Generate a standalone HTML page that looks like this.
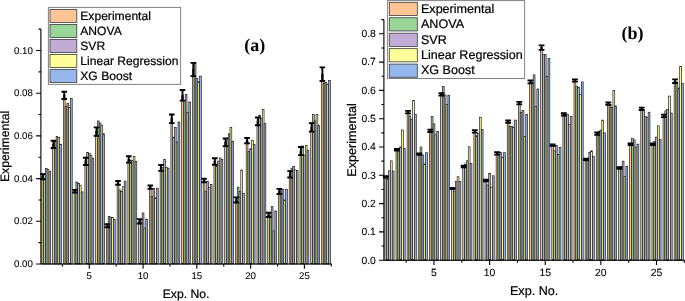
<!DOCTYPE html>
<html lang="en">
<head>
<meta charset="utf-8">
<title>Experimental vs predicted values</title>
<style>
html,body{margin:0;padding:0;background:#fff;}
body{width:685px;height:301px;overflow:hidden;}
svg{display:block;font-family:"Liberation Sans",sans-serif;text-rendering:geometricPrecision;}
text{stroke:#000;stroke-width:0.22px;}
.tk text{stroke-width:0.08px;}
</style>
</head>
<body>
<svg width="685" height="301" viewBox="0 0 685 301">
<defs><filter id="soft" x="0" y="0" width="685" height="301" filterUnits="userSpaceOnUse" color-interpolation-filters="sRGB"><feGaussianBlur stdDeviation="0.45"/></filter></defs>
<rect width="685" height="301" fill="#fff"/>
<g filter="url(#soft)">
<g stroke="#202020" stroke-width="0.7">
<rect x="41.85" y="176.68" width="1.74" height="87.32" fill="#FDC594"/>
<rect x="43.63" y="173.9" width="1.74" height="90.1" fill="#98D698"/>
<rect x="45.41" y="168.35" width="1.74" height="95.65" fill="#BFADD6"/>
<rect x="47.19" y="169.63" width="1.74" height="94.37" fill="#FFFF99"/>
<rect x="48.97" y="171.34" width="1.74" height="92.66" fill="#98B6EE"/>
<rect x="52.6" y="144.44" width="1.74" height="119.56" fill="#FDC594"/>
<rect x="54.38" y="141.24" width="1.74" height="122.76" fill="#98D698"/>
<rect x="56.16" y="136.33" width="1.74" height="127.67" fill="#BFADD6"/>
<rect x="57.94" y="137.61" width="1.74" height="126.39" fill="#FFFF99"/>
<rect x="59.72" y="144.23" width="1.74" height="119.77" fill="#98B6EE"/>
<rect x="63.36" y="95.34" width="1.74" height="168.66" fill="#FDC594"/>
<rect x="65.14" y="106.22" width="1.74" height="157.78" fill="#98D698"/>
<rect x="66.92" y="103.23" width="1.74" height="160.77" fill="#BFADD6"/>
<rect x="68.7" y="107.5" width="1.74" height="156.5" fill="#FFFF99"/>
<rect x="70.48" y="98.32" width="1.74" height="165.68" fill="#98B6EE"/>
<rect x="74.11" y="191.2" width="1.74" height="72.8" fill="#FDC594"/>
<rect x="75.89" y="182.02" width="1.74" height="81.98" fill="#98D698"/>
<rect x="77.67" y="183.3" width="1.74" height="80.7" fill="#BFADD6"/>
<rect x="79.45" y="185.22" width="1.74" height="78.78" fill="#FFFF99"/>
<rect x="81.23" y="191.84" width="1.74" height="72.16" fill="#98B6EE"/>
<rect x="84.87" y="161.31" width="1.74" height="102.69" fill="#FDC594"/>
<rect x="86.65" y="152.34" width="1.74" height="111.66" fill="#98D698"/>
<rect x="88.43" y="153.62" width="1.74" height="110.38" fill="#BFADD6"/>
<rect x="90.21" y="155.33" width="1.74" height="108.67" fill="#FFFF99"/>
<rect x="91.99" y="158.32" width="1.74" height="105.68" fill="#98B6EE"/>
<rect x="95.63" y="131.63" width="1.74" height="132.37" fill="#FDC594"/>
<rect x="97.41" y="120.95" width="1.74" height="143.05" fill="#98D698"/>
<rect x="99.19" y="123.09" width="1.74" height="140.91" fill="#BFADD6"/>
<rect x="100.97" y="125.22" width="1.74" height="138.78" fill="#FFFF99"/>
<rect x="102.75" y="133.77" width="1.74" height="130.23" fill="#98B6EE"/>
<rect x="106.38" y="225.78" width="1.74" height="38.22" fill="#FDC594"/>
<rect x="108.16" y="216.39" width="1.74" height="47.61" fill="#98D698"/>
<rect x="109.94" y="217.24" width="1.74" height="46.76" fill="#BFADD6"/>
<rect x="111.72" y="217.46" width="1.74" height="46.54" fill="#FFFF99"/>
<rect x="113.5" y="219.59" width="1.74" height="44.41" fill="#98B6EE"/>
<rect x="117.14" y="182.87" width="1.74" height="81.13" fill="#FDC594"/>
<rect x="118.92" y="189.92" width="1.74" height="74.08" fill="#98D698"/>
<rect x="120.7" y="191.62" width="1.74" height="72.38" fill="#BFADD6"/>
<rect x="122.48" y="186.71" width="1.74" height="77.29" fill="#FFFF99"/>
<rect x="124.26" y="181.16" width="1.74" height="82.84" fill="#98B6EE"/>
<rect x="127.89" y="159.38" width="1.74" height="104.62" fill="#FDC594"/>
<rect x="129.67" y="160.03" width="1.74" height="103.97" fill="#98D698"/>
<rect x="131.45" y="160.67" width="1.74" height="103.33" fill="#BFADD6"/>
<rect x="133.23" y="156.61" width="1.74" height="107.39" fill="#FFFF99"/>
<rect x="135.01" y="161.31" width="1.74" height="102.69" fill="#98B6EE"/>
<rect x="138.65" y="221.3" width="1.74" height="42.7" fill="#FDC594"/>
<rect x="140.43" y="220.23" width="1.74" height="43.77" fill="#98D698"/>
<rect x="142.21" y="212.97" width="1.74" height="51.03" fill="#BFADD6"/>
<rect x="143.99" y="227.92" width="1.74" height="36.08" fill="#FFFF99"/>
<rect x="145.77" y="219.16" width="1.74" height="44.84" fill="#98B6EE"/>
<rect x="149.4" y="187.14" width="1.74" height="76.86" fill="#FDC594"/>
<rect x="151.18" y="196.53" width="1.74" height="67.47" fill="#98D698"/>
<rect x="152.96" y="188.63" width="1.74" height="75.37" fill="#BFADD6"/>
<rect x="154.74" y="197.81" width="1.74" height="66.19" fill="#FFFF99"/>
<rect x="156.52" y="188.21" width="1.74" height="75.79" fill="#98B6EE"/>
<rect x="160.16" y="167.93" width="1.74" height="96.07" fill="#FDC594"/>
<rect x="161.94" y="167.5" width="1.74" height="96.5" fill="#98D698"/>
<rect x="163.72" y="159.38" width="1.74" height="104.62" fill="#BFADD6"/>
<rect x="165.5" y="167.5" width="1.74" height="96.5" fill="#FFFF99"/>
<rect x="167.28" y="168.14" width="1.74" height="95.86" fill="#98B6EE"/>
<rect x="170.91" y="118.82" width="1.74" height="145.18" fill="#FDC594"/>
<rect x="172.69" y="137.18" width="1.74" height="126.82" fill="#98D698"/>
<rect x="174.47" y="127.36" width="1.74" height="136.64" fill="#BFADD6"/>
<rect x="176.25" y="142.09" width="1.74" height="121.91" fill="#FFFF99"/>
<rect x="178.03" y="122.02" width="1.74" height="141.98" fill="#98B6EE"/>
<rect x="181.67" y="95.34" width="1.74" height="168.66" fill="#FDC594"/>
<rect x="183.45" y="100.67" width="1.74" height="163.33" fill="#98D698"/>
<rect x="185.23" y="94.48" width="1.74" height="169.52" fill="#BFADD6"/>
<rect x="187.01" y="112.42" width="1.74" height="151.58" fill="#FFFF99"/>
<rect x="188.79" y="101.95" width="1.74" height="162.05" fill="#98B6EE"/>
<rect x="192.43" y="69.5" width="1.74" height="194.5" fill="#FDC594"/>
<rect x="194.21" y="62.46" width="1.74" height="201.54" fill="#98D698"/>
<rect x="195.99" y="78.26" width="1.74" height="185.74" fill="#BFADD6"/>
<rect x="197.77" y="81.67" width="1.74" height="182.33" fill="#FFFF99"/>
<rect x="199.55" y="76.12" width="1.74" height="187.88" fill="#98B6EE"/>
<rect x="203.18" y="180.52" width="1.74" height="83.48" fill="#FDC594"/>
<rect x="204.96" y="191.2" width="1.74" height="72.8" fill="#98D698"/>
<rect x="206.74" y="181.38" width="1.74" height="82.62" fill="#BFADD6"/>
<rect x="208.52" y="187.35" width="1.74" height="76.65" fill="#FFFF99"/>
<rect x="210.3" y="184.36" width="1.74" height="79.64" fill="#98B6EE"/>
<rect x="213.94" y="161.52" width="1.74" height="102.48" fill="#FDC594"/>
<rect x="215.72" y="165.79" width="1.74" height="98.21" fill="#98D698"/>
<rect x="217.5" y="161.09" width="1.74" height="102.91" fill="#BFADD6"/>
<rect x="219.28" y="157.89" width="1.74" height="106.11" fill="#FFFF99"/>
<rect x="221.06" y="159.38" width="1.74" height="104.62" fill="#98B6EE"/>
<rect x="224.69" y="142.31" width="1.74" height="121.69" fill="#FDC594"/>
<rect x="226.47" y="140.81" width="1.74" height="123.19" fill="#98D698"/>
<rect x="228.25" y="133.77" width="1.74" height="130.23" fill="#BFADD6"/>
<rect x="230.03" y="127.36" width="1.74" height="136.64" fill="#FFFF99"/>
<rect x="231.81" y="141.24" width="1.74" height="122.76" fill="#98B6EE"/>
<rect x="235.45" y="199.95" width="1.74" height="64.05" fill="#FDC594"/>
<rect x="237.23" y="187.14" width="1.74" height="76.86" fill="#98D698"/>
<rect x="239.01" y="191.41" width="1.74" height="72.59" fill="#BFADD6"/>
<rect x="240.79" y="170.06" width="1.74" height="93.94" fill="#FFFF99"/>
<rect x="242.57" y="193.55" width="1.74" height="70.45" fill="#98B6EE"/>
<rect x="246.2" y="140.6" width="1.74" height="123.4" fill="#FDC594"/>
<rect x="247.98" y="151.49" width="1.74" height="112.51" fill="#98D698"/>
<rect x="249.76" y="148.71" width="1.74" height="115.29" fill="#BFADD6"/>
<rect x="251.54" y="140.38" width="1.74" height="123.62" fill="#FFFF99"/>
<rect x="253.32" y="144.23" width="1.74" height="119.77" fill="#98B6EE"/>
<rect x="256.96" y="121.38" width="1.74" height="142.62" fill="#FDC594"/>
<rect x="258.74" y="115.19" width="1.74" height="148.81" fill="#98D698"/>
<rect x="260.52" y="118.18" width="1.74" height="145.82" fill="#BFADD6"/>
<rect x="262.3" y="109.64" width="1.74" height="154.36" fill="#FFFF99"/>
<rect x="264.08" y="123.3" width="1.74" height="140.7" fill="#98B6EE"/>
<rect x="267.71" y="214.9" width="1.74" height="49.1" fill="#FDC594"/>
<rect x="269.49" y="214.9" width="1.74" height="49.1" fill="#98D698"/>
<rect x="271.27" y="206.36" width="1.74" height="57.64" fill="#BFADD6"/>
<rect x="273.05" y="230.91" width="1.74" height="33.09" fill="#FFFF99"/>
<rect x="274.83" y="211.05" width="1.74" height="52.95" fill="#98B6EE"/>
<rect x="278.47" y="191.41" width="1.74" height="72.59" fill="#FDC594"/>
<rect x="280.25" y="189.27" width="1.74" height="74.73" fill="#98D698"/>
<rect x="282.03" y="189.27" width="1.74" height="74.73" fill="#BFADD6"/>
<rect x="283.81" y="199.95" width="1.74" height="64.05" fill="#FFFF99"/>
<rect x="285.59" y="189.27" width="1.74" height="74.73" fill="#98B6EE"/>
<rect x="289.23" y="174.33" width="1.74" height="89.67" fill="#FDC594"/>
<rect x="291.01" y="168.14" width="1.74" height="95.86" fill="#98D698"/>
<rect x="292.79" y="166.43" width="1.74" height="97.57" fill="#BFADD6"/>
<rect x="294.57" y="169.85" width="1.74" height="94.15" fill="#FFFF99"/>
<rect x="296.35" y="170.49" width="1.74" height="93.51" fill="#98B6EE"/>
<rect x="299.98" y="151.06" width="1.74" height="112.94" fill="#FDC594"/>
<rect x="301.76" y="145.93" width="1.74" height="118.07" fill="#98D698"/>
<rect x="303.54" y="155.12" width="1.74" height="108.88" fill="#BFADD6"/>
<rect x="305.32" y="145.29" width="1.74" height="118.71" fill="#FFFF99"/>
<rect x="307.1" y="150.2" width="1.74" height="113.8" fill="#98B6EE"/>
<rect x="310.74" y="127.36" width="1.74" height="136.64" fill="#FDC594"/>
<rect x="312.52" y="114.55" width="1.74" height="149.45" fill="#98D698"/>
<rect x="314.3" y="120.95" width="1.74" height="143.05" fill="#BFADD6"/>
<rect x="316.08" y="114.55" width="1.74" height="149.45" fill="#FFFF99"/>
<rect x="317.86" y="125.22" width="1.74" height="138.78" fill="#98B6EE"/>
<rect x="321.49" y="74.2" width="1.74" height="189.8" fill="#FDC594"/>
<rect x="323.27" y="83.17" width="1.74" height="180.83" fill="#98D698"/>
<rect x="325.05" y="82.31" width="1.74" height="181.69" fill="#BFADD6"/>
<rect x="326.83" y="84.45" width="1.74" height="179.55" fill="#FFFF99"/>
<rect x="328.61" y="80.39" width="1.74" height="183.61" fill="#98B6EE"/>
</g>
<g stroke="#000" stroke-width="1.9" fill="none">
<path d="M39.92 174.12H45.52M39.92 179.24H45.52"/><path stroke-width="1.9" d="M42.72 174.12V179.24"/>
<path d="M50.67 140.81H56.27M50.67 148.07H56.27"/><path stroke-width="1.9" d="M53.47 140.81V148.07"/>
<path d="M61.43 91.71H67.03M61.43 98.96H67.03"/><path stroke-width="1.9" d="M64.23 91.71V98.96"/>
<path d="M72.18 189.92H77.78M72.18 192.48H77.78"/><path stroke-width="1.9" d="M74.98 189.92V192.48"/>
<path d="M82.94 157.68H88.54M82.94 164.94H88.54"/><path stroke-width="1.9" d="M85.74 157.68V164.94"/>
<path d="M93.7 127.36H99.3M93.7 135.9H99.3"/><path stroke-width="1.9" d="M96.5 127.36V135.9"/>
<path d="M104.45 224.29H110.05M104.45 227.28H110.05"/><path stroke-width="1.9" d="M107.25 224.29V227.28"/>
<path d="M115.21 180.95H120.81M115.21 184.79H120.81"/><path stroke-width="1.9" d="M118.01 180.95V184.79"/>
<path d="M125.96 156.18H131.56M125.96 162.59H131.56"/><path stroke-width="1.9" d="M128.76 156.18V162.59"/>
<path d="M136.72 219.16H142.32M136.72 223.44H142.32"/><path stroke-width="1.9" d="M139.52 219.16V223.44"/>
<path d="M147.47 185.43H153.07M147.47 188.85H153.07"/><path stroke-width="1.9" d="M150.27 185.43V188.85"/>
<path d="M158.23 164.94H163.83M158.23 170.91H163.83"/><path stroke-width="1.9" d="M161.03 164.94V170.91"/>
<path d="M168.98 114.55H174.58M168.98 123.09H174.58"/><path stroke-width="1.9" d="M171.78 114.55V123.09"/>
<path d="M179.74 90H185.34M179.74 100.67H185.34"/><path stroke-width="1.9" d="M182.54 90V100.67"/>
<path d="M190.5 62.88H196.1M190.5 76.12H196.1"/><path stroke-width="1.9" d="M193.3 62.88V76.12"/>
<path d="M201.25 178.81H206.85M201.25 182.23H206.85"/><path stroke-width="1.9" d="M204.05 178.81V182.23"/>
<path d="M212.01 158.32H217.61M212.01 164.72H217.61"/><path stroke-width="1.9" d="M214.81 158.32V164.72"/>
<path d="M222.76 138.46H228.36M222.76 146.15H228.36"/><path stroke-width="1.9" d="M225.56 138.46V146.15"/>
<path d="M233.52 197.39H239.12M233.52 202.51H239.12"/><path stroke-width="1.9" d="M236.32 197.39V202.51"/>
<path d="M244.27 137.93H249.87M244.27 143.27H249.87"/><path stroke-width="1.9" d="M247.07 137.93V143.27"/>
<path d="M255.03 117.54H260.63M255.03 125.22H260.63"/><path stroke-width="1.9" d="M257.83 117.54V125.22"/>
<path d="M265.78 212.76H271.38M265.78 217.03H271.38"/><path stroke-width="1.9" d="M268.58 212.76V217.03"/>
<path d="M276.54 188.85H282.14M276.54 193.97H282.14"/><path stroke-width="1.9" d="M279.34 188.85V193.97"/>
<path d="M287.3 171.13H292.9M287.3 177.53H292.9"/><path stroke-width="1.9" d="M290.1 171.13V177.53"/>
<path d="M298.05 147H303.65M298.05 155.12H303.65"/><path stroke-width="1.9" d="M300.85 147V155.12"/>
<path d="M308.81 123.09H314.41M308.81 131.63H314.41"/><path stroke-width="1.9" d="M311.61 123.09V131.63"/>
<path d="M319.56 67.37H325.16M319.56 81.03H325.16"/><path stroke-width="1.9" d="M322.36 67.37V81.03"/>
</g>
<path d="M40.9 28.9V264M40.3 264H331.9M40.9 264H36.1M40.9 242.65H38.5M40.9 221.3H36.1M40.9 199.95H38.5M40.9 178.6H36.1M40.9 157.25H38.5M40.9 135.9H36.1M40.9 114.55H38.5M40.9 93.2H36.1M40.9 71.85H38.5M40.9 50.5H36.1M40.9 29.15H38.5M62.41 264V266.4M89.3 264V268.8M116.19 264V266.4M143.08 264V268.8M169.97 264V266.4M196.86 264V268.8M223.74 264V266.4M250.63 264V268.8M277.52 264V266.4M304.41 264V268.8M331.3 264V266.4" stroke="#000" stroke-width="1.1" fill="none"/>
<g class="tk" font-size="9.7" fill="#000">
<text x="32.9" y="267.07" text-anchor="end">0.00</text>
<text x="32.9" y="224.37" text-anchor="end">0.02</text>
<text x="32.9" y="181.67" text-anchor="end">0.04</text>
<text x="32.9" y="138.97" text-anchor="end">0.06</text>
<text x="32.9" y="96.27" text-anchor="end">0.08</text>
<text x="32.9" y="53.57" text-anchor="end">0.10</text>
<text x="89.3" y="279.3" text-anchor="middle">5</text>
<text x="143.08" y="279.3" text-anchor="middle">10</text>
<text x="196.86" y="279.3" text-anchor="middle">15</text>
<text x="250.63" y="279.3" text-anchor="middle">20</text>
<text x="304.41" y="279.3" text-anchor="middle">25</text>
</g>
<text x="186.1" y="298" font-size="12.2" text-anchor="middle">Exp. No.</text>
<text transform="translate(9.1 146.45) rotate(-90)" font-size="12.2" text-anchor="middle">Experimental</text>
<rect x="48.4" y="7.4" width="132.2" height="77" fill="#fff" stroke="#828282" stroke-width="1"/>
<rect x="50" y="9.4" width="26.8" height="13" fill="#FDC594" stroke="#3a3a3a" stroke-width="0.8"/>
<text x="80.3" y="20" font-size="12.1">Experimental</text>
<rect x="50" y="24.45" width="26.8" height="13" fill="#98D698" stroke="#3a3a3a" stroke-width="0.8"/>
<text x="80.3" y="34.95" font-size="12.1">ANOVA</text>
<rect x="50" y="39.5" width="26.8" height="13" fill="#BFADD6" stroke="#3a3a3a" stroke-width="0.8"/>
<text x="80.3" y="49.9" font-size="12.1">SVR</text>
<rect x="50" y="54.55" width="26.8" height="13" fill="#FFFF99" stroke="#3a3a3a" stroke-width="0.8"/>
<text x="80.3" y="64.85" font-size="12.1">Linear Regression</text>
<rect x="50" y="69.6" width="26.8" height="13" fill="#98B6EE" stroke="#3a3a3a" stroke-width="0.8"/>
<text x="80.3" y="79.8" font-size="12.1">XG Boost</text>
<text x="254.8" y="51.4" font-family="'Liberation Serif', serif" font-weight="bold" style="stroke:none" font-size="18" text-anchor="middle">(a)</text>
<g stroke="#202020" stroke-width="0.7">
<rect x="384.88" y="176.91" width="1.8" height="83.29" fill="#FDC594"/>
<rect x="386.72" y="179.04" width="1.8" height="81.16" fill="#98D698"/>
<rect x="388.56" y="170.77" width="1.8" height="89.43" fill="#BFADD6"/>
<rect x="390.4" y="160.87" width="1.8" height="99.33" fill="#FFFF99"/>
<rect x="392.24" y="171.06" width="1.8" height="89.14" fill="#98B6EE"/>
<rect x="396.01" y="149.83" width="1.8" height="110.37" fill="#FDC594"/>
<rect x="397.85" y="148.41" width="1.8" height="111.79" fill="#98D698"/>
<rect x="399.69" y="147" width="1.8" height="113.2" fill="#BFADD6"/>
<rect x="401.53" y="130.02" width="1.8" height="130.18" fill="#FFFF99"/>
<rect x="403.37" y="148.41" width="1.8" height="111.79" fill="#98B6EE"/>
<rect x="407.13" y="112.11" width="1.8" height="148.09" fill="#FDC594"/>
<rect x="408.97" y="115.95" width="1.8" height="144.25" fill="#98D698"/>
<rect x="410.81" y="119.41" width="1.8" height="140.79" fill="#BFADD6"/>
<rect x="412.65" y="100.42" width="1.8" height="159.78" fill="#FFFF99"/>
<rect x="414.49" y="114.23" width="1.8" height="145.97" fill="#98B6EE"/>
<rect x="418.26" y="154.07" width="1.8" height="106.12" fill="#FDC594"/>
<rect x="420.1" y="147" width="1.8" height="113.2" fill="#98D698"/>
<rect x="421.94" y="154.92" width="1.8" height="105.28" fill="#BFADD6"/>
<rect x="423.78" y="163.98" width="1.8" height="96.22" fill="#FFFF99"/>
<rect x="425.62" y="152.66" width="1.8" height="107.54" fill="#98B6EE"/>
<rect x="429.39" y="130.78" width="1.8" height="129.42" fill="#FDC594"/>
<rect x="431.23" y="116.44" width="1.8" height="143.76" fill="#98D698"/>
<rect x="433.07" y="123.79" width="1.8" height="136.41" fill="#BFADD6"/>
<rect x="434.91" y="134.83" width="1.8" height="125.37" fill="#FFFF99"/>
<rect x="436.75" y="131.43" width="1.8" height="128.77" fill="#98B6EE"/>
<rect x="440.51" y="94.48" width="1.8" height="165.72" fill="#FDC594"/>
<rect x="442.35" y="86.41" width="1.8" height="173.79" fill="#98D698"/>
<rect x="444.19" y="94.93" width="1.8" height="165.27" fill="#BFADD6"/>
<rect x="446.03" y="104.27" width="1.8" height="155.93" fill="#FFFF99"/>
<rect x="447.87" y="95.27" width="1.8" height="164.93" fill="#98B6EE"/>
<rect x="451.64" y="188.49" width="1.8" height="71.71" fill="#FDC594"/>
<rect x="453.48" y="191.29" width="1.8" height="68.91" fill="#98D698"/>
<rect x="455.32" y="181.58" width="1.8" height="78.62" fill="#BFADD6"/>
<rect x="457.16" y="176.69" width="1.8" height="83.51" fill="#FFFF99"/>
<rect x="459" y="181.58" width="1.8" height="78.62" fill="#98B6EE"/>
<rect x="462.76" y="166.61" width="1.8" height="93.59" fill="#FDC594"/>
<rect x="464.6" y="163.98" width="1.8" height="96.22" fill="#98D698"/>
<rect x="466.44" y="160.78" width="1.8" height="99.42" fill="#BFADD6"/>
<rect x="468.28" y="146.77" width="1.8" height="113.43" fill="#FFFF99"/>
<rect x="470.12" y="163.36" width="1.8" height="96.84" fill="#98B6EE"/>
<rect x="473.89" y="131.43" width="1.8" height="128.77" fill="#FDC594"/>
<rect x="475.73" y="135.68" width="1.8" height="124.52" fill="#98D698"/>
<rect x="477.57" y="133.56" width="1.8" height="126.64" fill="#BFADD6"/>
<rect x="479.41" y="117.28" width="1.8" height="142.91" fill="#FFFF99"/>
<rect x="481.25" y="129.54" width="1.8" height="130.66" fill="#98B6EE"/>
<rect x="485.02" y="180.39" width="1.8" height="79.81" fill="#FDC594"/>
<rect x="486.86" y="184.92" width="1.8" height="75.28" fill="#98D698"/>
<rect x="488.7" y="173.4" width="1.8" height="86.8" fill="#BFADD6"/>
<rect x="490.54" y="187.19" width="1.8" height="73.01" fill="#FFFF99"/>
<rect x="492.38" y="175.75" width="1.8" height="84.45" fill="#98B6EE"/>
<rect x="496.14" y="153.31" width="1.8" height="106.89" fill="#FDC594"/>
<rect x="497.98" y="153.79" width="1.8" height="106.41" fill="#98D698"/>
<rect x="499.82" y="152.26" width="1.8" height="107.94" fill="#BFADD6"/>
<rect x="501.66" y="157.53" width="1.8" height="102.67" fill="#FFFF99"/>
<rect x="503.5" y="152.66" width="1.8" height="107.54" fill="#98B6EE"/>
<rect x="507.27" y="121.53" width="1.8" height="138.67" fill="#FDC594"/>
<rect x="509.11" y="126.26" width="1.8" height="133.94" fill="#98D698"/>
<rect x="510.95" y="126.26" width="1.8" height="133.94" fill="#BFADD6"/>
<rect x="512.79" y="127.44" width="1.8" height="132.76" fill="#FFFF99"/>
<rect x="514.63" y="120.11" width="1.8" height="140.09" fill="#98B6EE"/>
<rect x="518.39" y="103.13" width="1.8" height="157.07" fill="#FDC594"/>
<rect x="520.23" y="112.59" width="1.8" height="147.61" fill="#98D698"/>
<rect x="522.07" y="110.61" width="1.8" height="149.59" fill="#BFADD6"/>
<rect x="523.91" y="136.53" width="1.8" height="123.67" fill="#FFFF99"/>
<rect x="525.75" y="114.34" width="1.8" height="145.86" fill="#98B6EE"/>
<rect x="529.52" y="81.91" width="1.8" height="178.29" fill="#FDC594"/>
<rect x="531.36" y="80.49" width="1.8" height="179.71" fill="#98D698"/>
<rect x="533.2" y="74.83" width="1.8" height="185.37" fill="#BFADD6"/>
<rect x="535.04" y="106.42" width="1.8" height="153.78" fill="#FFFF99"/>
<rect x="536.88" y="88.98" width="1.8" height="171.22" fill="#98B6EE"/>
<rect x="540.65" y="47.58" width="1.8" height="212.62" fill="#FDC594"/>
<rect x="542.49" y="54.6" width="1.8" height="205.6" fill="#98D698"/>
<rect x="544.33" y="54.6" width="1.8" height="205.6" fill="#BFADD6"/>
<rect x="546.17" y="76.42" width="1.8" height="183.78" fill="#FFFF99"/>
<rect x="548.01" y="58.45" width="1.8" height="201.75" fill="#98B6EE"/>
<rect x="551.77" y="145.3" width="1.8" height="114.9" fill="#FDC594"/>
<rect x="553.61" y="150.79" width="1.8" height="109.41" fill="#98D698"/>
<rect x="555.45" y="145.42" width="1.8" height="114.78" fill="#BFADD6"/>
<rect x="557.29" y="154.53" width="1.8" height="105.67" fill="#FFFF99"/>
<rect x="559.13" y="147.28" width="1.8" height="112.92" fill="#98B6EE"/>
<rect x="562.9" y="114.45" width="1.8" height="145.75" fill="#FDC594"/>
<rect x="564.74" y="114.45" width="1.8" height="145.75" fill="#98D698"/>
<rect x="566.58" y="114.26" width="1.8" height="145.94" fill="#BFADD6"/>
<rect x="568.42" y="124.36" width="1.8" height="135.84" fill="#FFFF99"/>
<rect x="570.26" y="116.35" width="1.8" height="143.85" fill="#98B6EE"/>
<rect x="574.02" y="80.49" width="1.8" height="179.71" fill="#FDC594"/>
<rect x="575.86" y="86.16" width="1.8" height="174.04" fill="#98D698"/>
<rect x="577.7" y="87.57" width="1.8" height="172.63" fill="#BFADD6"/>
<rect x="579.54" y="94.65" width="1.8" height="165.55" fill="#FFFF99"/>
<rect x="581.38" y="81.91" width="1.8" height="178.29" fill="#98B6EE"/>
<rect x="585.15" y="159.45" width="1.8" height="100.75" fill="#FDC594"/>
<rect x="586.99" y="158.89" width="1.8" height="101.31" fill="#98D698"/>
<rect x="588.83" y="152.18" width="1.8" height="108.02" fill="#BFADD6"/>
<rect x="590.67" y="150.79" width="1.8" height="109.41" fill="#FFFF99"/>
<rect x="592.51" y="156.62" width="1.8" height="103.58" fill="#98B6EE"/>
<rect x="596.28" y="133.7" width="1.8" height="126.5" fill="#FDC594"/>
<rect x="598.12" y="131.43" width="1.8" height="128.77" fill="#98D698"/>
<rect x="599.96" y="130.02" width="1.8" height="130.18" fill="#BFADD6"/>
<rect x="601.8" y="120.11" width="1.8" height="140.09" fill="#FFFF99"/>
<rect x="603.64" y="132.85" width="1.8" height="127.35" fill="#98B6EE"/>
<rect x="607.4" y="103.7" width="1.8" height="156.5" fill="#FDC594"/>
<rect x="609.24" y="104.55" width="1.8" height="155.65" fill="#98D698"/>
<rect x="611.08" y="107.38" width="1.8" height="152.82" fill="#BFADD6"/>
<rect x="612.92" y="90.4" width="1.8" height="169.8" fill="#FFFF99"/>
<rect x="614.76" y="105.96" width="1.8" height="154.24" fill="#98B6EE"/>
<rect x="618.53" y="168.08" width="1.8" height="92.12" fill="#FDC594"/>
<rect x="620.37" y="166.81" width="1.8" height="93.39" fill="#98D698"/>
<rect x="622.21" y="161.15" width="1.8" height="99.05" fill="#BFADD6"/>
<rect x="624.05" y="176.71" width="1.8" height="83.49" fill="#FFFF99"/>
<rect x="625.89" y="166.24" width="1.8" height="93.96" fill="#98B6EE"/>
<rect x="629.65" y="144.17" width="1.8" height="116.03" fill="#FDC594"/>
<rect x="631.49" y="138.51" width="1.8" height="121.69" fill="#98D698"/>
<rect x="633.33" y="139.93" width="1.8" height="120.27" fill="#BFADD6"/>
<rect x="635.17" y="147" width="1.8" height="113.2" fill="#FFFF99"/>
<rect x="637.01" y="144.17" width="1.8" height="116.03" fill="#98B6EE"/>
<rect x="640.78" y="108.79" width="1.8" height="151.41" fill="#FDC594"/>
<rect x="642.62" y="110.49" width="1.8" height="149.71" fill="#98D698"/>
<rect x="644.46" y="116.44" width="1.8" height="143.76" fill="#BFADD6"/>
<rect x="646.3" y="117.57" width="1.8" height="142.63" fill="#FFFF99"/>
<rect x="648.14" y="112.25" width="1.8" height="147.95" fill="#98B6EE"/>
<rect x="651.91" y="144.17" width="1.8" height="116.03" fill="#FDC594"/>
<rect x="653.75" y="141.34" width="1.8" height="118.86" fill="#98D698"/>
<rect x="655.59" y="137.09" width="1.8" height="123.11" fill="#BFADD6"/>
<rect x="657.43" y="125.78" width="1.8" height="134.42" fill="#FFFF99"/>
<rect x="659.27" y="139.36" width="1.8" height="120.84" fill="#98B6EE"/>
<rect x="663.03" y="115.87" width="1.8" height="144.33" fill="#FDC594"/>
<rect x="664.87" y="110.78" width="1.8" height="149.42" fill="#98D698"/>
<rect x="666.71" y="109.5" width="1.8" height="150.7" fill="#BFADD6"/>
<rect x="668.55" y="96.06" width="1.8" height="164.14" fill="#FFFF99"/>
<rect x="670.39" y="113.04" width="1.8" height="147.16" fill="#98B6EE"/>
<rect x="674.16" y="81.15" width="1.8" height="179.05" fill="#FDC594"/>
<rect x="676" y="81.91" width="1.8" height="178.29" fill="#98D698"/>
<rect x="677.84" y="88.05" width="1.8" height="172.15" fill="#BFADD6"/>
<rect x="679.68" y="66.34" width="1.8" height="193.86" fill="#FFFF99"/>
<rect x="681.52" y="83.32" width="1.8" height="176.88" fill="#98B6EE"/>
</g>
<g stroke="#000" stroke-width="1.8" fill="none">
<path d="M382.88 176.15H388.68M382.88 177.68H388.68"/><path stroke-width="1.6" d="M385.78 176.15V177.68"/>
<path d="M394.01 148.98H399.81M394.01 150.68H399.81"/><path stroke-width="1.6" d="M396.91 148.98V150.68"/>
<path d="M405.13 110.89H410.93M405.13 113.32H410.93"/><path stroke-width="1.6" d="M408.03 110.89V113.32"/>
<path d="M416.26 153.31H422.06M416.26 154.84H422.06"/><path stroke-width="1.6" d="M419.16 153.31V154.84"/>
<path d="M427.39 129.57H433.19M427.39 132H433.19"/><path stroke-width="1.6" d="M430.29 129.57V132"/>
<path d="M438.51 93.26H444.31M438.51 95.69H444.31"/><path stroke-width="1.6" d="M441.41 93.26V95.69"/>
<path d="M449.64 187.78H455.44M449.64 189.2H455.44"/><path stroke-width="1.6" d="M452.54 187.78V189.2"/>
<path d="M460.76 165.76H466.56M460.76 167.46H466.56"/><path stroke-width="1.6" d="M463.66 165.76V167.46"/>
<path d="M471.89 130.22H477.69M471.89 132.65H477.69"/><path stroke-width="1.6" d="M474.79 130.22V132.65"/>
<path d="M483.02 179.55H488.82M483.02 181.24H488.82"/><path stroke-width="1.6" d="M485.92 179.55V181.24"/>
<path d="M494.14 152.04H499.94M494.14 154.58H499.94"/><path stroke-width="1.6" d="M497.04 152.04V154.58"/>
<path d="M505.27 120.31H511.07M505.27 122.75H511.07"/><path stroke-width="1.6" d="M508.17 120.31V122.75"/>
<path d="M516.39 101.92H522.19M516.39 104.35H522.19"/><path stroke-width="1.6" d="M519.29 101.92V104.35"/>
<path d="M527.52 80.35H533.32M527.52 83.47H533.32"/><path stroke-width="1.6" d="M530.42 80.35V83.47"/>
<path d="M538.65 45.32H544.45M538.65 49.85H544.45"/><path stroke-width="1.6" d="M541.55 45.32V49.85"/>
<path d="M549.77 144.45H555.57M549.77 146.15H555.57"/><path stroke-width="1.6" d="M552.67 144.45V146.15"/>
<path d="M560.9 113.24H566.7M560.9 115.67H566.7"/><path stroke-width="1.6" d="M563.8 113.24V115.67"/>
<path d="M572.02 79.28H577.82M572.02 81.71H577.82"/><path stroke-width="1.6" d="M574.92 79.28V81.71"/>
<path d="M583.15 158.6H588.95M583.15 160.3H588.95"/><path stroke-width="1.6" d="M586.05 158.6V160.3"/>
<path d="M594.28 132.48H600.08M594.28 134.92H600.08"/><path stroke-width="1.6" d="M597.18 132.48V134.92"/>
<path d="M605.4 102.48H611.2M605.4 104.92H611.2"/><path stroke-width="1.6" d="M608.3 102.48V104.92"/>
<path d="M616.53 167.23H622.33M616.53 168.93H622.33"/><path stroke-width="1.6" d="M619.43 167.23V168.93"/>
<path d="M627.65 143.32H633.45M627.65 145.02H633.45"/><path stroke-width="1.6" d="M630.55 143.32V145.02"/>
<path d="M638.78 107.58H644.58M638.78 110.01H644.58"/><path stroke-width="1.6" d="M641.68 107.58V110.01"/>
<path d="M649.91 143.32H655.71M649.91 145.02H655.71"/><path stroke-width="1.6" d="M652.81 143.32V145.02"/>
<path d="M661.03 114.65H666.83M661.03 117.09H666.83"/><path stroke-width="1.6" d="M663.93 114.65V117.09"/>
<path d="M672.16 79.31H677.96M672.16 82.99H677.96"/><path stroke-width="1.6" d="M675.06 79.31V82.99"/>
</g>
<path d="M383.9 19.7V260.2M383.3 260.2H684.9M383.9 260.2H379M383.9 246.05H381.45M383.9 231.9H379M383.9 217.75H381.45M383.9 203.6H379M383.9 189.45H381.45M383.9 175.3H379M383.9 161.15H381.45M383.9 147H379M383.9 132.85H381.45M383.9 118.7H379M383.9 104.55H381.45M383.9 90.4H379M383.9 76.25H381.45M383.9 62.1H379M383.9 47.95H381.45M383.9 33.8H379M383.9 19.65H381.45M406.15 260.2V262.65M433.97 260.2V265.1M461.78 260.2V262.65M489.6 260.2V265.1M517.41 260.2V262.65M545.23 260.2V265.1M573.04 260.2V262.65M600.86 260.2V265.1M628.67 260.2V262.65M656.49 260.2V265.1M684.3 260.2V262.65" stroke="#000" stroke-width="1.1" fill="none"/>
<g class="tk" font-size="10.4" fill="#000">
<text x="375.9" y="263.52" text-anchor="end">0.0</text>
<text x="375.9" y="235.22" text-anchor="end">0.1</text>
<text x="375.9" y="206.92" text-anchor="end">0.2</text>
<text x="375.9" y="178.62" text-anchor="end">0.3</text>
<text x="375.9" y="150.32" text-anchor="end">0.4</text>
<text x="375.9" y="122.02" text-anchor="end">0.5</text>
<text x="375.9" y="93.72" text-anchor="end">0.6</text>
<text x="375.9" y="65.42" text-anchor="end">0.7</text>
<text x="375.9" y="37.12" text-anchor="end">0.8</text>
<text x="433.97" y="276.2" text-anchor="middle">5</text>
<text x="489.6" y="276.2" text-anchor="middle">10</text>
<text x="545.23" y="276.2" text-anchor="middle">15</text>
<text x="600.86" y="276.2" text-anchor="middle">20</text>
<text x="656.49" y="276.2" text-anchor="middle">25</text>
</g>
<text x="534.1" y="295.4" font-size="12.6" text-anchor="middle">Exp. No.</text>
<text transform="translate(356.3 139.95) rotate(-90)" font-size="12.6" text-anchor="middle">Experimental</text>
<rect x="387.6" y="0.6" width="137" height="77.9" fill="#fff" stroke="#828282" stroke-width="1"/>
<rect x="389.3" y="2.3" width="28" height="13.2" fill="#FDC594" stroke="#3a3a3a" stroke-width="0.8"/>
<text x="421" y="13.2" font-size="12.55">Experimental</text>
<rect x="389.3" y="17.75" width="28" height="13.2" fill="#98D698" stroke="#3a3a3a" stroke-width="0.8"/>
<text x="421" y="28.45" font-size="12.55">ANOVA</text>
<rect x="389.3" y="33.2" width="28" height="13.2" fill="#BFADD6" stroke="#3a3a3a" stroke-width="0.8"/>
<text x="421" y="43.7" font-size="12.55">SVR</text>
<rect x="389.3" y="48.65" width="28" height="13.2" fill="#FFFF99" stroke="#3a3a3a" stroke-width="0.8"/>
<text x="421" y="58.95" font-size="12.55">Linear Regression</text>
<rect x="389.3" y="64.1" width="28" height="13.2" fill="#98B6EE" stroke="#3a3a3a" stroke-width="0.8"/>
<text x="421" y="74.2" font-size="12.55">XG Boost</text>
<text x="632.4" y="39" font-family="'Liberation Serif', serif" font-weight="bold" style="stroke:none" font-size="18" text-anchor="middle">(b)</text>
</g>
</svg>
</body>
</html>
